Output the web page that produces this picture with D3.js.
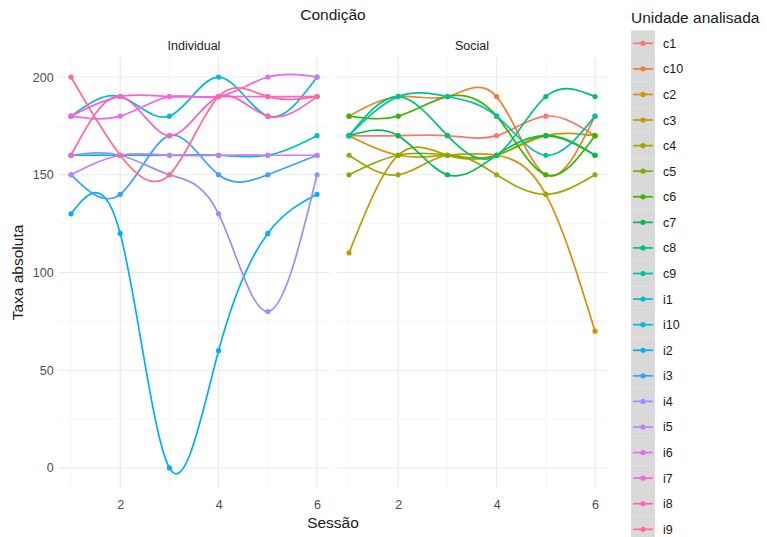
<!DOCTYPE html>
<html>
<head>
<meta charset="utf-8">
<script src="https://cdn.jsdelivr.net/npm/d3@7"></script>
<style>
  body { margin: 0; background: #ffffff; }
  text { font-family: "Liberation Sans", Arial, sans-serif; }
</style>
</head>
<body>
<svg id="chart" width="767" height="537"></svg>
<script>
// Sessions on the x axis, facet panels and tick labels
const sessions = [1, 2, 3, 4, 5, 6];
const conditions = ["Individual", "Social"];
const xTicks = [2, 4, 6];
const yTicks = [0, 50, 100, 150, 200];

// Units in legend order and their colours
const units = ["c1", "c10", "c2", "c3", "c4", "c5", "c6", "c7", "c8", "c9",
               "i1", "i10", "i2", "i3", "i4", "i5", "i6", "i7", "i8", "i9"];
const unitColors = ["#F8766D", "#EA8331", "#D89000", "#C09B00", "#A3A500", "#7CAE00",
                    "#39B600", "#00BB4E", "#00BF7D", "#00C1A3", "#00BFC4", "#00BAE0",
                    "#00B0F6", "#35A2FF", "#9590FF", "#C77CFF", "#E76BF3", "#FA62DB",
                    "#FF62BC", "#FF6C91"];

// Taxa absoluta per session, condition Social
const c1  = [170, 170, 170, 170, 180, 170];
const c10 = [180, 190, 190, 190, 150, 180];
const c2  = [170, 160, 160, 160, 140, 70];
const c3  = [110, 160, 160, 160, 170, 170];
const c4  = [160, 150, 160, 150, 140, 150];
const c5  = [150, 160, 160, 160, 170, 160];
const c6  = [180, 180, 190, 180, 150, 170];
const c7  = [170, 170, 150, 160, 170, 160];
const c8  = [170, 190, 170, 160, 190, 190];
const c9  = [170, 190, 190, 180, 160, 180];

// Taxa absoluta per session, condition Individual
const i1  = [160, 160, 160, 160, 160, 170];
const i10 = [180, 190, 180, 200, 180, 200];
const i2  = [130, 120, 0, 60, 120, 140];
const i3  = [150, 140, 170, 150, 150, 160];
const i4  = [160, 160, 150, 130, 80, 150];
const i5  = [150, 160, 160, 160, 160, 160];
const i6  = [180, 180, 190, 190, 200, 200];
const i7  = [180, 190, 190, 190, 190, 190];
const i8  = [160, 190, 170, 190, 180, 190];
const i9  = [200, 160, 150, 190, 190, 190];

const valuesByUnit = { c1, c10, c2, c3, c4, c5, c6, c7, c8, c9,
                       i1, i10, i2, i3, i4, i5, i6, i7, i8, i9 };

const svg = d3.select("#chart");
const color = d3.scaleOrdinal().domain(units).range(unitColors);

// Panel geometry
const panelTop = 57.5, panelBottom = 487.5;
const panels = [
  { name: conditions[0], x0: 58.7, x1: 329.3, prefix: "i" },
  { name: conditions[1], x0: 336.7, x1: 607.3, prefix: "c" }
];
const y = d3.scaleLinear().domain([-10, 210]).range([panelBottom, panelTop]);
const minorY = [25, 75, 125, 175];
const minorX = [1, 3, 5];

const line = (xs) => d3.line()
  .x(d => xs(d.s))
  .y(d => y(d.v))
  .curve(d3.curveNatural);

panels.forEach(p => {
  const x = d3.scaleLinear().domain([0.75, 6.25]).range([p.x0, p.x1]);
  const g = svg.append("g");

  // grid
  g.selectAll(".minor-y").data(minorY).join("line")
    .attr("x1", p.x0).attr("x2", p.x1)
    .attr("y1", d => y(d)).attr("y2", d => y(d))
    .attr("stroke", "#f3f3f3").attr("stroke-width", 0.7);
  g.selectAll(".minor-x").data(minorX).join("line")
    .attr("x1", d => x(d)).attr("x2", d => x(d))
    .attr("y1", panelTop).attr("y2", panelBottom)
    .attr("stroke", "#f3f3f3").attr("stroke-width", 0.7);
  g.selectAll(".major-y").data(yTicks).join("line")
    .attr("x1", p.x0).attr("x2", p.x1)
    .attr("y1", d => y(d)).attr("y2", d => y(d))
    .attr("stroke", "#e9e9e9").attr("stroke-width", 1.1);
  g.selectAll(".major-x").data(xTicks).join("line")
    .attr("x1", d => x(d)).attr("x2", d => x(d))
    .attr("y1", panelTop).attr("y2", panelBottom)
    .attr("stroke", "#e9e9e9").attr("stroke-width", 1.1);

  // strip label
  svg.append("text")
    .attr("x", (p.x0 + p.x1) / 2).attr("y", 49.5)
    .attr("text-anchor", "middle")
    .attr("font-size", 12.5).attr("fill", "#1a1a1a")
    .text(p.name);

  // x axis
  const xAxis = svg.append("g")
    .attr("transform", `translate(0,${panelBottom})`)
    .call(d3.axisBottom(x).tickValues(xTicks).tickSize(0).tickPadding(13).tickFormat(d3.format("d")));
  xAxis.select(".domain").remove();
  xAxis.selectAll("text").attr("font-size", 12.5).attr("fill", "#4d4d4d")
    .style("font-family", "'Liberation Sans', Arial, sans-serif");

  // series
  const panelUnits = units.filter(u => u.startsWith(p.prefix));
  const series = panelUnits.map(u => ({
    unit: u,
    points: sessions.map((s, k) => ({ s, v: valuesByUnit[u][k] }))
  }));
  const lg = g.append("g");
  lg.selectAll("path").data(series).join("path")
    .attr("d", d => line(x)(d.points))
    .attr("fill", "none")
    .attr("stroke", d => color(d.unit))
    .attr("stroke-width", 1.7)
    .attr("stroke-linejoin", "round");
  series.forEach(sr => {
    g.append("g").selectAll("circle").data(sr.points).join("circle")
      .attr("cx", d => x(d.s)).attr("cy", d => y(d.v))
      .attr("r", 2.6)
      .attr("fill", color(sr.unit));
  });
});

// y axis (left panel only)
const yAxis = svg.append("g")
  .attr("transform", `translate(${panels[0].x0},0)`)
  .call(d3.axisLeft(y).tickValues(yTicks).tickSize(0).tickPadding(5));
yAxis.select(".domain").remove();
yAxis.selectAll("text").attr("font-size", 12.5).attr("fill", "#4d4d4d")
  .style("font-family", "'Liberation Sans', Arial, sans-serif");

// titles
svg.append("text")
  .attr("x", (panels[0].x0 + panels[1].x1) / 2).attr("y", 20)
  .attr("text-anchor", "middle").attr("font-size", 15.5).attr("fill", "#1a1a1a")
  .text("Condição");
svg.append("text")
  .attr("x", (panels[0].x0 + panels[1].x1) / 2).attr("y", 528)
  .attr("text-anchor", "middle").attr("font-size", 15.5).attr("fill", "#1a1a1a")
  .text("Sessão");
svg.append("text")
  .attr("transform", `translate(23,${(panelTop + panelBottom) / 2}) rotate(-90)`)
  .attr("text-anchor", "middle").attr("font-size", 15.5).attr("fill", "#1a1a1a")
  .text("Taxa absoluta");

// legend
const legendX = 631, keyW = 24, keyH = 25.58, firstKeyTop = 30.5;
const legend = svg.append("g");
legend.append("text")
  .attr("x", legendX).attr("y", 23)
  .attr("font-size", 15.5).attr("fill", "#1a1a1a")
  .text("Unidade analisada");
const keys = legend.selectAll(".key").data(units).join("g")
  .attr("transform", (d, k) => `translate(${legendX},${firstKeyTop + k * keyH})`);
keys.append("rect")
  .attr("width", keyW).attr("height", keyH)
  .attr("fill", "#d9d9d9");
keys.append("line")
  .attr("x1", 2).attr("x2", keyW - 2)
  .attr("y1", keyH / 2).attr("y2", keyH / 2)
  .attr("stroke", d => color(d)).attr("stroke-width", 1.7);
keys.append("circle")
  .attr("cx", keyW / 2).attr("cy", keyH / 2).attr("r", 2.6)
  .attr("fill", d => color(d));
keys.append("text")
  .attr("x", keyW + 8).attr("y", keyH / 2).attr("dy", "0.36em")
  .attr("font-size", 12.5).attr("fill", "#1a1a1a")
  .text(d => d);
</script>
</body>
</html>
